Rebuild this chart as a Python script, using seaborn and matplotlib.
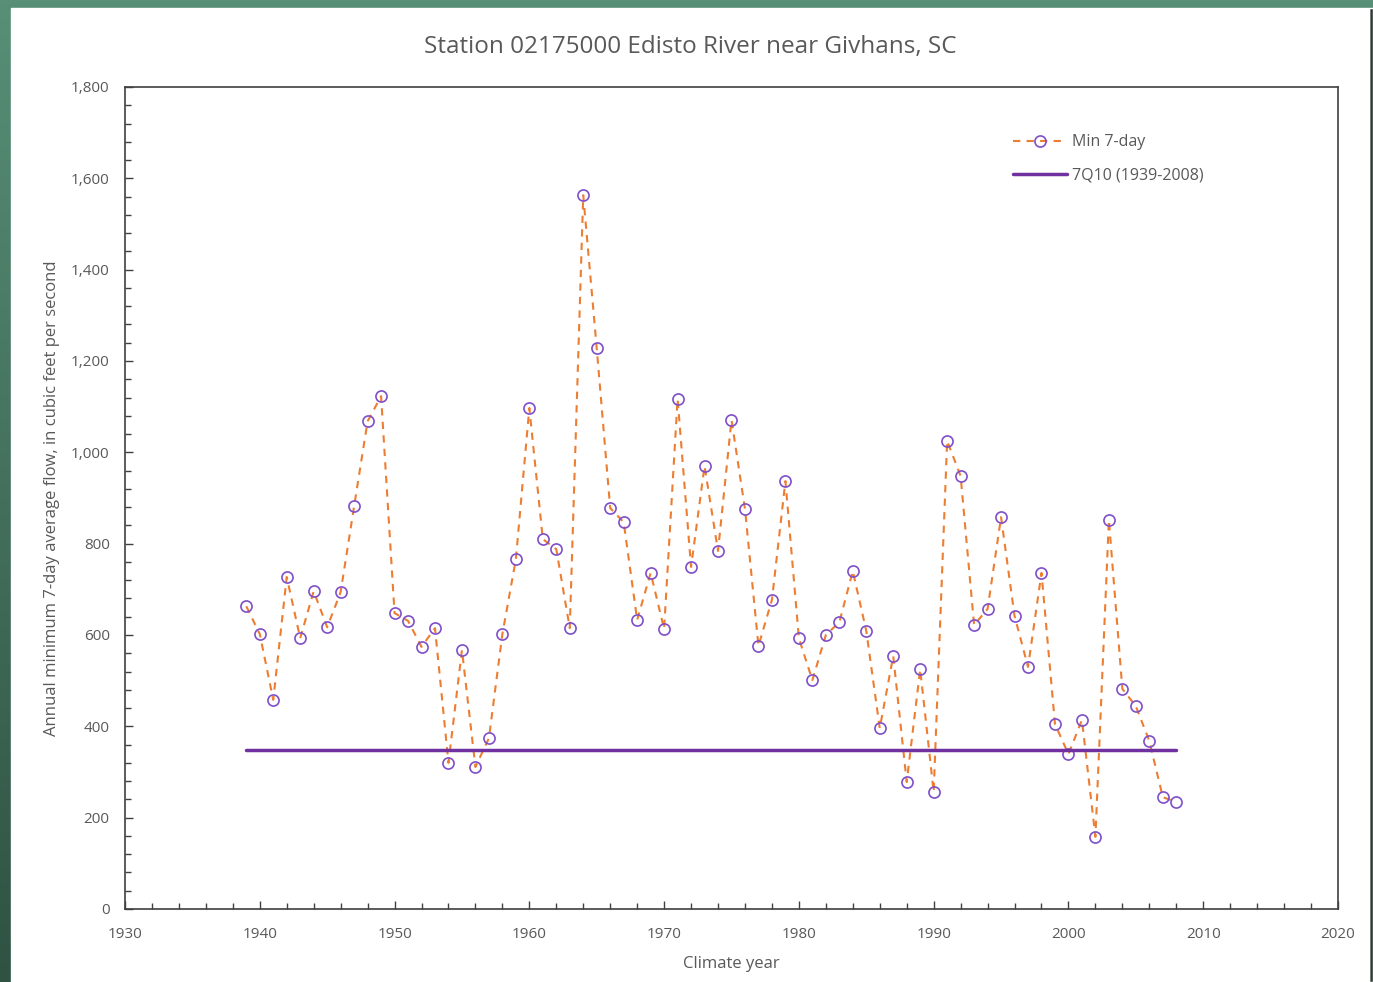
import numpy as np
import pandas as pd
import matplotlib.pyplot as plt
import seaborn as sns
from matplotlib.patches import Rectangle
from matplotlib.ticker import MultipleLocator, FuncFormatter

# Annual minimum 7-day flow, Edisto River near Givhans
years = list(range(1939, 2009))
min7day = [663, 602, 458, 727, 593, 696, 617, 694, 882, 1068,
           1123, 648, 631, 574, 615, 320, 567, 311, 374, 602,
           766, 1097, 810, 788, 615, 1563, 1228, 878, 847, 633,
           736, 613, 1117, 749, 970, 784, 1071, 876, 576, 677,
           937, 593, 501, 600, 628, 740, 609, 396, 554, 278,
           525, 256, 1025, 948, 622, 657, 858, 642, 530, 736,
           405, 339, 414, 158, 852, 482, 444, 368, 245, 234]
q7q10 = 348
q7q10_years = [1939, 2008]

data = pd.DataFrame({"year": years, "flow": min7day})
ref = pd.DataFrame({"year": q7q10_years, "flow": [q7q10, q7q10]})

sns.set_style("ticks")
plt.rcParams["font.family"] = ["Open Sans", "DejaVu Sans"]

fig = plt.figure(figsize=(13.73, 9.82), dpi=100)
# slide background around the chart (green, darker towards the bottom)
bg = fig.add_axes([0, 0, 1, 1], zorder=-5)
grad = np.linspace(0, 1, 256).reshape(-1, 1)
bg.imshow(grad, aspect="auto", cmap=sns.blend_palette(["#578f77", "#2f5243"], as_cmap=True),
          extent=[0, 1, 0, 1], origin="upper")
bg.add_patch(Rectangle((1369 / 1373, 0), 4 / 1373, 1 - 8 / 982, facecolor="#2b3a33"))
bg.add_patch(Rectangle((11 / 1373, 0), (1369 - 11) / 1373, 1 - 8 / 982, facecolor="white"))
bg.set_xlim(0, 1)
bg.set_ylim(0, 1)
bg.axis("off")

ax = fig.add_axes([125 / 1373, 1 - 909 / 982, (1338 - 125) / 1373, (909 - 87) / 982])

sns.lineplot(data=data, x="year", y="flow", ax=ax, color="#ED7D31",
             linestyle=(0, (3.5, 3)), linewidth=1.5, marker="o", markersize=8,
             markerfacecolor="none", markeredgecolor="#7F4FC9", markeredgewidth=1.2,
             label="Min 7-day")
sns.lineplot(data=ref, x="year", y="flow", ax=ax, color="#7030A0",
             linewidth=2.5, label="7Q10 (1939-2008)")

ax.set_xlim(1930, 2020)
ax.set_ylim(0, 1800)
ax.xaxis.set_major_locator(MultipleLocator(10))
ax.xaxis.set_minor_locator(MultipleLocator(2))
ax.yaxis.set_major_locator(MultipleLocator(200))
ax.yaxis.set_minor_locator(MultipleLocator(40))
ax.yaxis.set_major_formatter(FuncFormatter(lambda v, p: f"{int(v):,}"))
ax.tick_params(which="both", direction="in", colors="#404040", labelcolor="#595959",
               labelsize=11)
ax.tick_params(which="major", length=6, width=1)
ax.tick_params(which="minor", length=4, width=1)
ax.tick_params(axis="x", pad=13)
ax.tick_params(axis="y", pad=11)
for s in ax.spines.values():
    s.set_color("#404040")
    s.set_linewidth(1.2)

ax.set_xlabel("Climate year", fontsize=12, color="#595959", labelpad=10)
ax.set_ylabel("Annual minimum 7-day average flow, in cubic feet per second",
              fontsize=12, color="#595959", labelpad=8)
fig.text(690 / 1373, 1 - 47 / 982, "Station 02175000 Edisto River near Givhans, SC",
         ha="center", va="center", fontsize=17.5, color="#595959")

leg = ax.legend(loc="upper left", bbox_to_anchor=(0.72, 0.96), frameon=False,
                fontsize=11.5, handlelength=3.4, labelspacing=1.1, handletextpad=0.3)
for t in leg.get_texts():
    t.set_color("#595959")

fig.savefig("out.png", dpi=100)
